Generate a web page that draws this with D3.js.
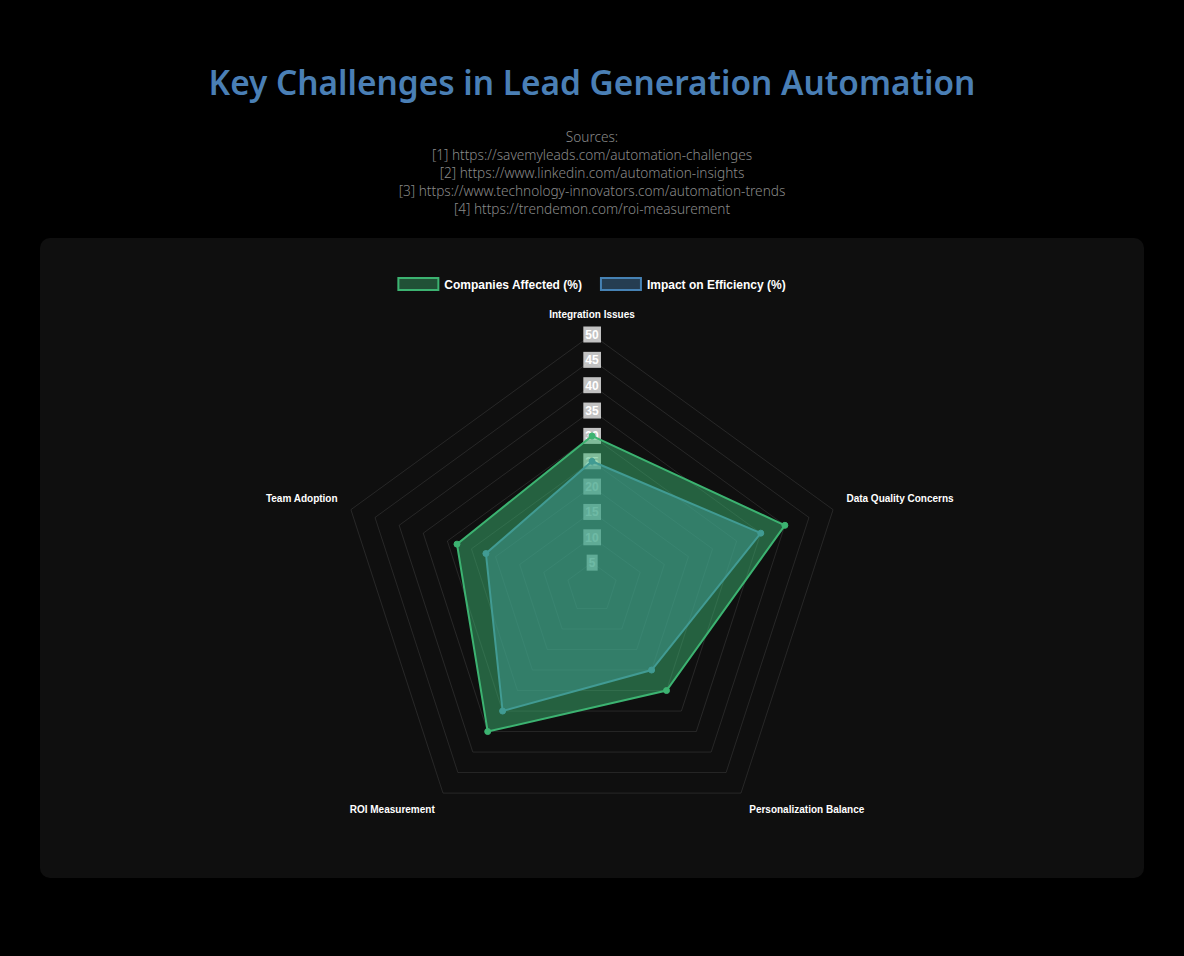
<!DOCTYPE html>
<html>
<head>
<meta charset="utf-8">
<script src="https://cdn.jsdelivr.net/npm/d3@7"></script>
<style>
  body { margin: 0; background: #000; }
  svg { display: block; }
</style>
</head>
<body>
<div id="chart"></div>
<script>
// Data

var axes = ["Integration Issues", "Data Quality Concerns", "Personalization Balance", "ROI Measurement", "Team Adoption"],
	companies = [30, 40, 25, 35, 28],
	efficiency = [25, 35, 20, 30, 22],
	ticks = [5, 10, 15, 20, 25, 30, 35, 40, 45, 50],
	seriesNames = ["Companies Affected (%)", "Impact on Efficiency (%)"];

var sources = [
	"Sources:",
	"[1] https://savemyleads.com/automation-challenges",
	"[2] https://www.linkedin.com/automation-insights",
	"[3] https://www.technology-innovators.com/automation-trends",
	"[4] https://trendemon.com/roi-measurement"
];

var title = "Key Challenges in Lead Generation Automation";

// Layout

var W = 1184, H = 956,
	cx = 592, cy = 588, R = 253.5;

var green = "rgb(60,179,113)", greenFill = "rgba(60,179,113,0.5)",
	blue = "rgb(70,130,180)", blueFill = "rgba(70,130,180,0.5)";

var svg = d3.select("#chart").append("svg")
	.attr("width", W)
	.attr("height", H);

svg.append("rect").attr("width", W).attr("height", H).attr("fill", "#000");

// title, fitted to the reference width
var tt = svg.append("text")
	.attr("x", cx).attr("y", 95)
	.attr("text-anchor", "middle")
	.style("font-family", "'Noto Sans', sans-serif")
	.style("font-weight", 600)
	.style("font-size", "32px")
	.style("fill", "#4a7fb5")
	.text(title);
var tw = tt.node().getComputedTextLength();
tt.style("font-size", (32 * 767 / tw) + "px");

var src = svg.append("g")
	.style("font-family", "'Noto Sans', sans-serif")
	.style("font-weight", 300)
	.style("font-size", "13px")
	.style("fill", "#8a8a8a")
	.attr("text-anchor", "middle");

var srcLines = src.selectAll("text").data(sources).enter().append("text")
	.attr("x", cx)
	.attr("y", function(d, i) { return 142 + i * 18; })
	.text(function(d) { return d; });
var sw = srcLines.nodes()[3].getComputedTextLength();
src.style("font-size", (13 * 387 / sw) + "px");

// card
svg.append("rect")
	.attr("x", 40).attr("y", 238)
	.attr("width", 1104).attr("height", 640)
	.attr("rx", 10).attr("ry", 10)
	.attr("fill", "#0f0f0f");

// legend
var legend = svg.append("g")
	.style("font-family", "'Liberation Sans', Arial, sans-serif")
	.style("font-weight", "bold")
	.style("font-size", "12px");

var items = legend.selectAll("g").data(seriesNames).enter().append("g");
items.append("rect")
	.attr("width", 40).attr("height", 12)
	.attr("fill", function(d, i) { return i == 0 ? "rgba(60,179,113,0.4)" : "rgba(70,130,180,0.4)"; })
	.attr("stroke", function(d, i) { return i == 0 ? green : blue; })
	.attr("stroke-width", 2);
items.append("text")
	.attr("x", 46).attr("y", 10.5)
	.style("fill", "#fff")
	.text(function(d) { return d; });

var widths = items.nodes().map(function(n) { return 46 + d3.select(n).select("text").node().getComputedTextLength(); });
var totalW = d3.sum(widths) + 19 * (widths.length - 1);
var lx = cx - totalW / 2;
items.attr("transform", function(d, i) {
	var x = lx;
	lx += widths[i] + 19;
	return "translate(" + x + ",278)";
});

// radial scale
var r = d3.scaleLinear().domain([0, 50]).range([0, R]);
var angle = d3.scaleLinear().domain([0, axes.length]).range([0, 2 * Math.PI]);

function px(i, v) { return cx + r(v) * Math.sin(angle(i)); }
function py(i, v) { return cy - r(v) * Math.cos(angle(i)); }

var origin = svg.append("g");

// grid rings
origin.selectAll(".ring").data(ticks).enter().append("polygon")
	.attr("class", "ring")
	.attr("points", function(t) {
		return axes.map(function(a, i) { return px(i, t) + "," + py(i, t); }).join(" ");
	})
	.style("fill", "none")
	.style("stroke", "rgba(255,255,255,0.1)")
	.style("stroke-width", 1);

// tick labels with backdrop
var tickG = origin.selectAll(".tick").data(ticks).enter().append("g")
	.attr("class", "tick")
	.attr("transform", function(t) { return "translate(" + cx + "," + (cy - r(t)) + ")"; })
	.style("font-family", "'Liberation Sans', Arial, sans-serif")
	.style("font-weight", "bold")
	.style("font-size", "12px");

tickG.append("text")
	.attr("text-anchor", "middle")
	.attr("dy", "0.36em")
	.style("fill", "#fff")
	.text(function(t) { return t; });
tickG.insert("rect", "text")
	.each(function() {
		var bb = d3.select(this.parentNode).select("text").node().getBBox();
		d3.select(this)
			.attr("x", bb.x - 2).attr("y", -8)
			.attr("width", bb.width + 4).attr("height", 16);
	})
	.style("fill", "rgba(255,255,255,0.75)");

// point labels
origin.selectAll(".plabel").data(axes).enter().append("text")
	.attr("class", "plabel")
	.attr("x", function(d, i) { return px(i, 50) + 14 * Math.sin(angle(i)); })
	.attr("y", function(d, i) {
		var y = py(i, 50) - 14 * Math.cos(angle(i));
		return y < cy ? y - 3 : y + 9;
	})
	.attr("text-anchor", function(d, i) {
		var s = Math.sin(angle(i));
		return Math.abs(s) < 0.01 ? "middle" : (s > 0 ? "start" : "end");
	})
	.style("font-family", "'Liberation Sans', Arial, sans-serif")
	.style("font-weight", "bold")
	.style("font-size", "10px")
	.style("fill", "#fff")
	.text(function(d) { return d; });

// datasets (first dataset drawn last, on top)
var series = [
	{ values: efficiency, stroke: blue, fill: blueFill },
	{ values: companies, stroke: green, fill: greenFill }
];

var line = d3.lineRadial()
	.angle(function(d, i) { return angle(i); })
	.radius(function(d) { return r(d); })
	.curve(d3.curveLinearClosed);

var sg = origin.selectAll(".series").data(series).enter().append("g")
	.attr("class", "series")
	.attr("transform", "translate(" + cx + "," + cy + ")");

sg.append("path")
	.attr("d", function(s) { return line(s.values); })
	.style("fill", function(s) { return s.fill; })
	.style("stroke", function(s) { return s.stroke; })
	.style("stroke-width", 2);

sg.selectAll("circle").data(function(s) { return s.values.map(function(v) { return { v: v, s: s }; }); })
	.enter().append("circle")
	.attr("cx", function(d, i) { return r(d.v) * Math.sin(angle(i)); })
	.attr("cy", function(d, i) { return -r(d.v) * Math.cos(angle(i)); })
	.attr("r", 3)
	.style("fill", function(d) { return d.s.stroke; })
	.style("stroke", function(d) { return d.s.stroke; })
	.style("stroke-width", 1);
</script>
</body>
</html>
